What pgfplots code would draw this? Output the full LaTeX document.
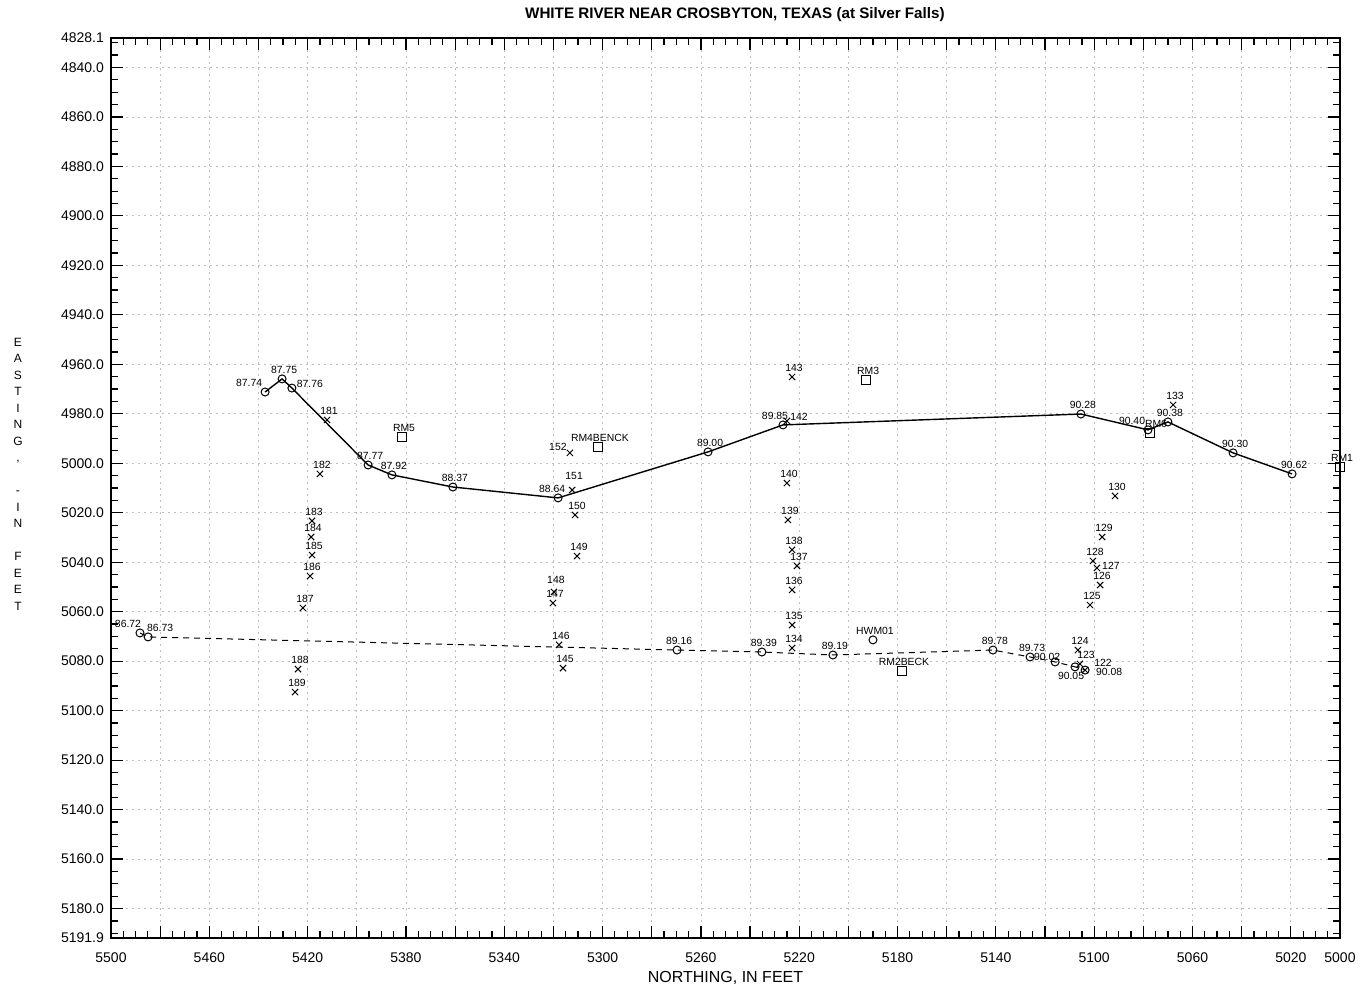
\documentclass[border=0pt]{standalone}
\usepackage{fontspec}
\setmainfont{Liberation Sans}
\usepackage{pgfplots}
\pgfplotsset{compat=1.18}
\pgfplotsset{
  lbl/.style={nodes near coords, point meta=explicit symbolic,
    visualization depends on={value \thisrow{dx}\as\lx},
    visualization depends on={value \thisrow{dy}\as\ly},
    nodes near coords align={anchor=center},
    every node near coord/.style={font=\fontsize{5.2}{5.2}\selectfont,
      inner sep=0pt, anchor=center, xshift=\lx pt, yshift=\ly pt, text=black}},
}
\begin{document}
\begin{tikzpicture}
\begin{axis}[name=ax, scale only axis, width=614.5pt, height=450pt,
  x dir=reverse, y dir=reverse, clip=false,
  xmin=5000, xmax=5500, ymin=4828.1, ymax=5191.9,
  xtick={5000,5020,...,5500},
  xticklabels={5000,5020,{},5060,{},5100,{},5140,{},5180,{},5220,{},5260,{},5300,{},5340,{},5380,{},5420,{},5460,{},5500},
  ytick={4828.1,4840,4860,4880,4900,4920,4940,4960,4980,5000,5020,5040,5060,5080,5100,5120,5140,5160,5180,5191.9},
  yticklabels={4828.1,4840.0,4860.0,4880.0,4900.0,4920.0,4940.0,4960.0,4980.0,5000.0,5020.0,5040.0,5060.0,5080.0,5100.0,5120.0,5140.0,5160.0,5180.0,5191.9},
  minor xtick={5000,5005,...,5500},
  minor ytick={4830,4835,...,5190},
  tick align=inside,
  major tick length=6pt, minor tick length=3.5pt,
  every tick/.style={black, line width=0.6pt},
  axis line style={line width=1pt},
  tick label style={font=\fontsize{7}{7}\selectfont},
  xticklabel style={yshift=-4pt},
  grid=major,
  major grid style={gray!50, line width=0.4pt, dash pattern=on 1pt off 2pt},
]
% water surface, solid
\addplot[black, line width=0.7pt, mark=o, mark size=2pt,
  mark options={line width=0.5pt}, lbl]
  table[meta=lab, row sep=\\] {x y lab dx dy\\
  5437.3 4971.2 87.74 -8 4.5\\ 5430.4 4965.9 87.75 1 4.5\\ 5426.4 4969.6 87.76 9 2\\
  5395.4 5000.7 87.77 1 4.5\\ 5385.7 5004.7 87.92 1 4.5\\ 5360.9 5009.6 88.37 1 4.5\\
  5318.1 5014.0 88.64 -3 4.5\\ 5257.1 4995.4 89.00 1 4.5\\ 5226.6 4984.5 89.85 -4 4.5\\
  5105.4 4980.1 90.28 1 4.5\\ 5078.1 4986.5 90.40 -8 4.5\\ 5070.0 4983.3 90.38 1 4.5\\
  5043.5 4995.8 90.30 1 4.5\\ 5019.5 5004.3 90.62 1 4.5\\
  };
% second profile, dashed
\addplot[black, line width=0.5pt, dash pattern=on 3pt off 2.5pt, mark=o, mark size=2pt,
  mark options={solid, line width=0.5pt}, lbl]
  table[meta=lab, row sep=\\] {x y lab dx dy\\
  5488.2 5068.6 86.72 -6 4.5\\ 5484.9 5070.2 86.73 6 4.5\\ 5269.7 5075.5 89.16 1 4.5\\
  5235.2 5076.3 89.39 1 4.5\\ 5206.3 5077.5 89.19 1 4.5\\ 5141.2 5075.5 89.78 1 4.5\\
  5126.1 5078.3 89.73 1 4.5\\ 5115.9 5080.3 90.02 -4 2.5\\ 5107.8 5082.3 90.05 -2 -4.5\\
  5103.7 5083.6 90.08 12 -1\\
  };
\addplot[only marks, mark=o, mark size=2pt, mark options={line width=0.5pt}, lbl]
  table[meta=lab, row sep=\\] {x y lab dx dy\\ 5190.0 5071.4 HWM01 1 4.5\\};
% reference marks
\addplot[only marks, mark=square, mark size=2.4pt, mark options={line width=0.5pt}, lbl]
  table[meta=lab, row sep=\\] {x y lab dx dy\\
  5381.6 4989.4 RM5 1 4.5\\ 5301.9 4993.4 RM4BENCK 1 4.5\\ 5192.8 4966.3 RM3 1 4.5\\
  5178.2 5084.0 RM2BECK 1 4.5\\ 5077.3 4987.8 RM6 3 4.5\\ 5000.0 5001.5 RM1 1 4.5\\
  };
% cross-section points
\addplot[only marks, mark=x, mark size=2.2pt, mark options={line width=0.5pt}, lbl]
  table[meta=lab, row sep=\\] {x y lab dx dy\\
  5412.1 4982.5 181 1 4.5\\ 5415.0 5004.3 182 1 4.5\\ 5418.2 5023.3 183 1 4.5\\
  5418.6 5029.8 184 1 4.5\\ 5418.2 5037.1 185 1 4.5\\ 5419.0 5045.6 186 1 4.5\\
  5421.9 5058.5 187 1 4.5\\ 5423.9 5083.2 188 1 4.5\\ 5425.1 5092.5 189 1 4.5\\
  5313.3 4995.8 152 -6 3\\ 5312.4 5010.8 151 1 7\\ 5311.2 5020.9 150 1 4.5\\
  5310.4 5037.5 149 1 4.5\\ 5319.8 5052.0 148 1 6\\ 5320.2 5056.5 147 1 4.5\\
  5317.7 5073.4 146 1 4.5\\ 5316.1 5082.8 145 1 4.5\\
  5222.9 4965.1 143 1 4.5\\ 5225.0 4982.9 142 6 2\\ 5225.0 5008.0 140 1 4.5\\
  5224.6 5022.9 139 1 4.5\\ 5222.9 5035.0 138 1 4.5\\ 5220.9 5041.5 137 1 4.5\\
  5222.9 5051.2 136 1 4.5\\ 5222.9 5065.4 135 1 4.5\\ 5222.9 5074.7 134 1 4.5\\
  5067.9 4976.4 133 1 4.5\\ 5091.5 5013.2 130 1 4.5\\ 5096.8 5029.8 129 1 4.5\\
  5100.5 5039.5 128 1 4.5\\ 5098.9 5042.3 127 7 1\\ 5097.6 5049.2 126 1 4.5\\
  5101.7 5057.3 125 1 4.5\\ 5106.6 5075.5 124 1 4.5\\ 5105.8 5081.1 123 3 4.5\\
  5103.7 5083.6 122 9 3.5\\
  };
\end{axis}
\node[font=\bfseries\fontsize{7.6}{7.6}\selectfont] at ([xshift=4.7pt,yshift=11.5pt]ax.north)
  {WHITE RIVER NEAR CROSBYTON, TEXAS (at Silver Falls)};
\node[font=\fontsize{8}{8}\selectfont] at ([yshift=-20pt]ax.south) {NORTHING, IN FEET};
\node[font=\fontsize{6}{8.25}\selectfont, align=center] at ([xshift=-46.5pt,yshift=7pt]ax.west)
  {E\\A\\S\\T\\I\\N\\G\\,\\ \\-\\I\\N\\ \\F\\E\\E\\T};
\pgfresetboundingbox
\path[use as bounding box] ([xshift=-55.5pt,yshift=-25pt]ax.south west) rectangle ([xshift=11pt,yshift=19pt]ax.north east);
\end{tikzpicture}
\end{document}
